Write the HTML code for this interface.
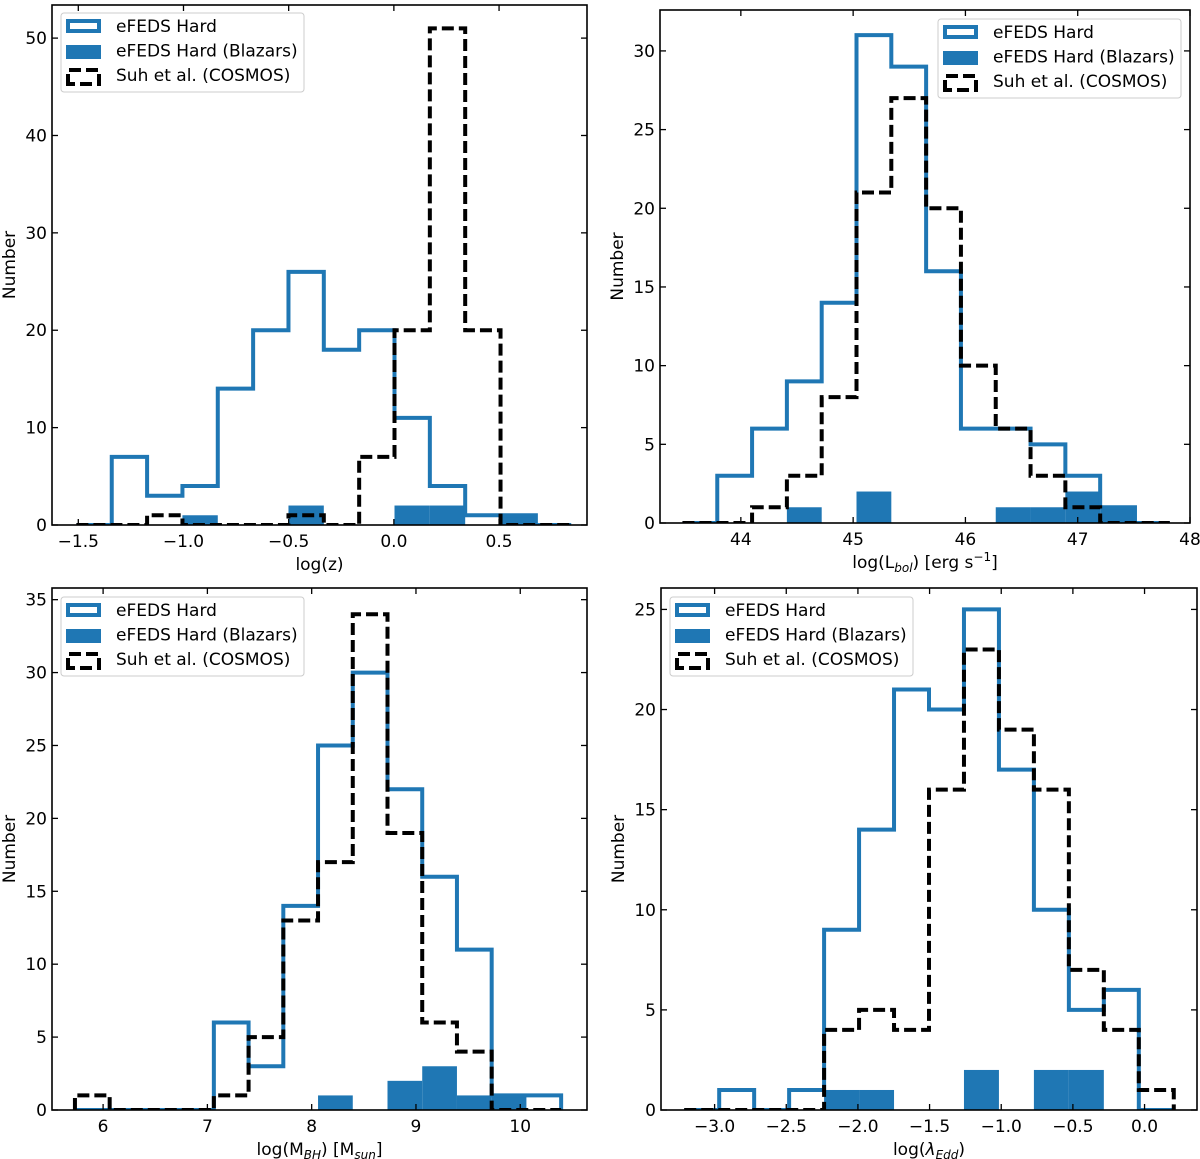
<!DOCTYPE html>
<html><head><meta charset="utf-8"><style>
html,body{margin:0;padding:0;background:#fff;}
svg{display:block;font-family:"DejaVu Sans","Liberation Sans",sans-serif;}
</style></head><body>
<svg id="fig" width="1200" height="1159" viewBox="0 0 1200 1159" xmlns="http://www.w3.org/2000/svg"></svg>
<script>
// Panel 1: log(z)
const zEdgeStart = -1.509, zBinWidth = 0.168;
const zEfeds   = [0,7,3,4,14,20,26,18,20,11,4,1,1,0];
const zBlazars = [0,0,0,1,0,0,2,0,0,2,2,0,1,0];
const zCosmos  = [0,0,1,0,0,0,1,0,7,20,51,20,0,0];
const zXTicks = [-1.5,-1.0,-0.5,0.0,0.5];
const zXTickLabels = ["\u22121.5","\u22121.0","\u22120.5","0.0","0.5"];
const zYTicks = [0,10,20,30,40,50];
// Panel 2: log(Lbol)
const lEdgeStart = 43.48, lBinWidth = 0.31;
const lEfeds   = [0,3,6,9,14,31,29,16,6,6,5,3,1,0];
const lBlazars = [0,0,0,1,0,2,0,0,0,1,1,2,1,0];
const lCosmos  = [0,0,1,3,8,21,27,20,10,6,3,1,0,0];
const lXTicks = [44,45,46,47,48];
const lXTickLabels = ["44","45","46","47","48"];
const lYTicks = [0,5,10,15,20,25,30];
// Panel 3: log(MBH)
const mEdgeStart = 5.73, mBinWidth = 0.333;
const mEfeds   = [0,0,0,0,6,3,14,25,30,22,16,11,1,1];
const mBlazars = [0,0,0,0,0,0,0,1,0,2,3,1,1,0];
const mCosmos  = [1,0,0,0,1,5,13,17,34,19,6,4,0,0];
const mXTicks = [6,7,8,9,10];
const mXTickLabels = ["6","7","8","9","10"];
const mYTicks = [0,5,10,15,20,25,30,35];
// Panel 4: log(lambda_Edd)
const eEdgeStart = -3.212, eBinWidth = 0.244;
const eEfeds   = [0,1,0,1,9,14,21,20,25,17,10,5,6,0];
const eBlazars = [0,0,0,0,1,1,0,0,2,0,2,2,0,0];
const eCosmos  = [0,0,0,0,4,5,4,16,23,19,16,7,4,1];
const eXTicks = [-3.0,-2.5,-2.0,-1.5,-1.0,-0.5,0.0];
const eXTickLabels = ["\u22123.0","\u22122.5","\u22122.0","\u22121.5","\u22121.0","\u22120.5","0.0"];
const eYTicks = [0,5,10,15,20,25];

const NS="http://www.w3.org/2000/svg";
const svg=document.getElementById('fig');
const BLUE="#1f77b4";
function mk(tag,attrs,parent){const e=document.createElementNS(NS,tag);for(const k in attrs)e.setAttribute(k,attrs[k]);(parent||svg).appendChild(e);return e;}

const panels=[
 {name:'redshift',box:[52,5,587,525],xr:[-1.625,0.918],yr:[0,53.4],es:zEdgeStart,bw:zBinWidth,ef:zEfeds,bl:zBlazars,co:zCosmos,xt:zXTicks,xl:zXTickLabels,yt:zYTicks,leg:[61,13],xlabel:'log(z)'},
 {name:'luminosity',box:[660,10,1190,523],xr:[43.28,48.0],yr:[0,32.6],es:lEdgeStart,bw:lBinWidth,ef:lEfeds,bl:lBlazars,co:lCosmos,xt:lXTicks,xl:lXTickLabels,yt:lYTicks,leg:[938,19],xlabel:'lbol'},
 {name:'bh-mass',box:[52,588,587,1110],xr:[5.51,10.64],yr:[0,35.8],es:mEdgeStart,bw:mBinWidth,ef:mEfeds,bl:mBlazars,co:mCosmos,xt:mXTicks,xl:mXTickLabels,yt:mYTicks,leg:[61,597],xlabel:'mbh'},
 {name:'eddington',box:[661,588,1197,1110],xr:[-3.374,0.366],yr:[0,26.07],es:eEdgeStart,bw:eBinWidth,ef:eEfeds,bl:eBlazars,co:eCosmos,xt:eXTicks,xl:eXTickLabels,yt:eYTicks,leg:[670,597],xlabel:'edd'}
];

panels.forEach(p=>{
 const [L,T,R,B]=p.box;
 const g=mk('g',{});
 
 
 const X=v=>L+(v-p.xr[0])/(p.xr[1]-p.xr[0])*(R-L);
 const Y=v=>B-(v-p.yr[0])/(p.yr[1]-p.yr[0])*(B-T);
 const clipId='clip-'+p.name;
 const cp=mk('clipPath',{id:clipId},g);mk('rect',{x:L,y:T,width:R-L,height:B-T},cp);
 const dg=mk('g',{'clip-path':'url(#'+clipId+')'},g);
 p.bl.forEach((v,i)=>{ if(v<=0)return;
  const r=mk('rect',{x:X(p.es+i*p.bw),y:Y(v),width:X(p.es+(i+1)*p.bw)-X(p.es+i*p.bw),height:Y(0)-Y(v),fill:BLUE},dg);
  
  
 });
 function stepPath(vals){
  let d='M'+X(p.es)+','+Y(0);
  vals.forEach((v,i)=>{d+=' L'+X(p.es+i*p.bw)+','+Y(v)+' L'+X(p.es+(i+1)*p.bw)+','+Y(v);});
  d+=' L'+X(p.es+vals.length*p.bw)+','+Y(0);
  return d;
 }
 const pe=mk('path',{d:stepPath(p.ef),fill:'none',stroke:BLUE,'stroke-width':4,'stroke-linejoin':'miter'},dg);
 
 
 const pc=mk('path',{d:stepPath(p.co),fill:'none',stroke:'#000','stroke-width':4,'stroke-dasharray':'12,5'},dg);
 
 
 mk('rect',{x:L,y:T,width:R-L,height:B-T,fill:'none',stroke:'#000','stroke-width':1.6},g);
 p.xt.forEach((t,i)=>{const x=X(t);
  mk('line',{x1:x,y1:B,x2:x,y2:B-6,stroke:'#000','stroke-width':1.3},g);
  mk('line',{x1:x,y1:T,x2:x,y2:T+6,stroke:'#000','stroke-width':1.3},g);
  const tx=mk('text',{x:x,y:B+22,'font-size':17,'text-anchor':'middle',fill:'#000'},g);tx.textContent=p.xl[i];
  
  
 });
 p.yt.forEach(t=>{const y=Y(t);
  mk('line',{x1:L,y1:y,x2:L+6,y2:y,stroke:'#000','stroke-width':1.3},g);
  mk('line',{x1:R,y1:y,x2:R-6,y2:y,stroke:'#000','stroke-width':1.3},g);
  const tx=mk('text',{x:L-5,y:y+6,'font-size':17,'text-anchor':'end',fill:'#000'},g);tx.textContent=t;
  
  
 });
 const cx=(L+R)/2;
 const xl=mk('text',{x:cx,y:B+45,'font-size':17,'text-anchor':'middle',fill:'#000'},g);
 
 
 if(p.xlabel==='log(z)') xl.textContent='log(z)';
 else if(p.xlabel==='lbol') xl.innerHTML='log(L<tspan font-size="12" font-style="italic" dy="4">bol</tspan><tspan dy="-4">) [erg s</tspan><tspan font-size="12" dy="-7">\u22121</tspan><tspan dy="7">]</tspan>';
 else if(p.xlabel==='mbh') xl.innerHTML='log(M<tspan font-size="12" font-style="italic" dy="4">BH</tspan><tspan dy="-4">) [M</tspan><tspan font-size="12" font-style="italic" dy="4">sun</tspan><tspan dy="-4">]</tspan>';
 else xl.innerHTML='log(<tspan font-style="italic">\u03bb</tspan><tspan font-size="12" font-style="italic" dy="4">Edd</tspan><tspan dy="-4">)</tspan>';
 const yl=mk('text',{x:0,y:0,'font-size':17,'text-anchor':'middle',fill:'#000',transform:'translate('+(L-37)+','+((T+B)/2)+') rotate(-90)'},g);
 yl.textContent='Number';
 
 
 const [lx,ly]=p.leg;
 const lg=mk('g',{},g);
 
 
 mk('rect',{x:lx,y:ly,width:243,height:79,rx:3,fill:'#fff','fill-opacity':0.85,stroke:'#ccc','stroke-width':1},lg);
 mk('rect',{x:lx+7,y:ly+8,width:31,height:10,fill:'#fff',stroke:BLUE,'stroke-width':4},lg);
 mk('rect',{x:lx+5,y:ly+32,width:35,height:14,fill:BLUE},lg);
 mk('path',{d:'M'+(lx+7)+','+(ly+66)+' L'+(lx+7)+','+(ly+71)+' L'+(lx+38)+','+(ly+71)+' L'+(lx+38)+','+(ly+57)+' L'+(lx+7)+','+(ly+57)+' Z',fill:'none',stroke:'#000','stroke-width':4,'stroke-dasharray':'12,5'},lg);
 const labels=['eFEDS Hard','eFEDS Hard (Blazars)','Suh et al. (COSMOS)'];
 labels.forEach((s,i)=>{const t=mk('text',{x:lx+55,y:ly+19+i*24.5,'font-size':17,fill:'#000'},lg);t.textContent=s;
  
  
 });
});
</script>
</body></html>
